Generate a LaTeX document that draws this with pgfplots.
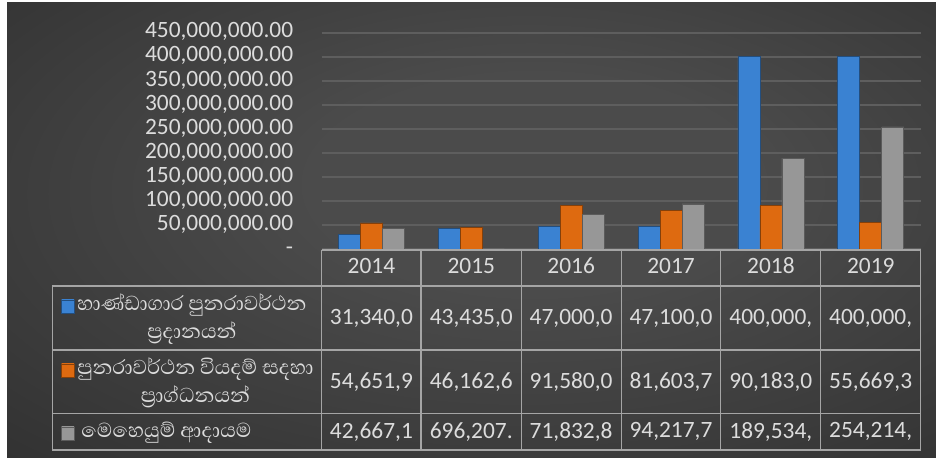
\documentclass[border=0pt]{standalone}
\usepackage{pgfplots}
\pgfplotsset{compat=1.18}
\usepackage{fontspec}
\setmainfont{Carlito}
\newfontfamily\sinhala[Script=Sinhala]{Abhaya Libre}

\definecolor{bgin}{HTML}{4B4B4B}
\definecolor{bgout}{HTML}{262626}
\definecolor{txt}{HTML}{DCDCDC}
\definecolor{gridc}{HTML}{5E5E5E}
\definecolor{tline}{HTML}{A5A5A5}
\definecolor{bluemid}{HTML}{4E9EEC}
\definecolor{blueedge}{HTML}{3A82D2}
\definecolor{orgmid}{HTML}{F7851F}
\definecolor{orgedge}{HTML}{DE6A10}
\definecolor{graymid}{HTML}{B2B2B2}
\definecolor{grayedge}{HTML}{979797}

\pgfdeclareradialshading{bgshade}{\pgfpoint{4bp}{6bp}}{%
  color(0bp)=(bgin); color(12bp)=(bgin); color(52bp)=(bgout); color(80bp)=(bgout)}

\begin{document}
\begin{tikzpicture}
\begin{scope}[x=0.5pt, y=-0.5pt, yshift=229pt]
  \fill[white] (0,0) rectangle (936,458);
  \shade[shading=bgshade] (7,3) rectangle (936,458);
\end{scope}

\begin{axis}[
  at={(160.75pt,104.35pt)}, anchor=south west,
  scale only axis, width=299.6pt, height=108.3pt,
  xmin=-0.5, xmax=5.5, ymin=0, ymax=450000000,
  ybar=0pt, bar width=11pt,
  xtick={0,1,2,3,4,5},
  xticklabels={2014,2015,2016,2017,2018,2019},
  ytick={0,50000000,100000000,150000000,200000000,250000000,300000000,350000000,400000000,450000000},
  yticklabels={-,{50,000,000.00},{100,000,000.00},{150,000,000.00},{200,000,000.00},
    {250,000,000.00},{300,000,000.00},{350,000,000.00},{400,000,000.00},{450,000,000.00}},
  scaled y ticks=false,
  axis line style={draw=none}, major tick length=0pt,
  ymajorgrids, grid style={draw=gridc, line width=1pt},
  tick label style={font=\fontsize{11.7}{13}\selectfont, text=txt},
  yticklabel style={anchor=east, inner sep=0pt, xshift=-14pt},
  xticklabel style={anchor=center, inner sep=0pt, yshift=-9.35pt},
  typeset ticklabels with strut,
]
% treasury grants
\addplot[draw=blueedge!60!black, left color=blueedge, middle color=bluemid, right color=blueedge]
  coordinates {(0,31340000) (1,43435000) (2,47000000) (3,47100000) (4,400000000) (5,400000000)};
% capital for recurrent expenditure
\addplot[draw=orgedge!60!black, left color=orgedge, middle color=orgmid, right color=orgedge]
  coordinates {(0,54651900) (1,46162600) (2,91580000) (3,81603700) (4,90183000) (5,55669300)};
% operating income
\addplot[draw=grayedge!60!black, left color=grayedge, middle color=graymid, right color=grayedge]
  coordinates {(0,42667100) (1,696207) (2,71832800) (3,94217700) (4,189534000) (5,254214000)};
\end{axis}

% data table below the plot
\begin{scope}[x=0.5pt, y=-0.5pt, yshift=229pt]
  \draw[tline, line width=0.75pt] (321.7,250) -- (920.7,250);
  \foreach \yy in {286,350,413.3,450} \draw[tline, line width=0.75pt] (52.3,\yy) -- (920.7,\yy);
  \draw[tline, line width=0.75pt] (52.3,286) -- (52.3,450);
  \foreach \xx in {321.7,421,521.7,621.3,720.7,820.7,920.7}
    \draw[tline, line width=0.75pt] (\xx,250) -- (\xx,450);

  \tikzset{val/.style={text=txt, font=\fontsize{11.7}{13}\selectfont, anchor=center}}
  \foreach \v [count=\i from 0] in {{31,340,0},{43,435,0},{47,000,0},{47,100,0},{400,000,},{400,000,}}
    \node[val] at (371.4+\i*99.85,318) {\v};
  \foreach \v [count=\i from 0] in {{54,651,9},{46,162,6},{91,580,0},{81,603,7},{90,183,0},{55,669,3}}
    \node[val] at (371.4+\i*99.85,381.7) {\v};
  \foreach \v [count=\i from 0] in {{42,667,1},{696,207.},{71,832,8},{94,217,7},{189,534,},{254,214,}}
    \node[val] at (371.4+\i*99.85,431.7) {\v};

  % legend keys
  \shade[draw=blueedge!60!black, left color=blueedge, middle color=bluemid, right color=blueedge] (61.5,300) rectangle (74,313);
  \shade[draw=orgedge!60!black, left color=orgedge, middle color=orgmid, right color=orgedge] (61.5,364) rectangle (74,377);
  \shade[draw=grayedge!60!black, left color=grayedge, middle color=graymid, right color=grayedge] (61.5,427) rectangle (74,440);

  \tikzset{leg/.style={text=txt, font=\sinhala\fontsize{12.9}{14}\selectfont, align=center, inner sep=0pt}}
  \node[leg, anchor=west] at (77,319) {හාණ්ඩාගාර පුනරාවර්ථන\\ප්‍රදානයන්};
  \node[leg, anchor=west] at (77,383) {පුනරාවර්ථන වියදම් සදහා\\ප්‍රාග්ධනයන්};
  \node[leg, anchor=west] at (81,433) {මෙහෙයුම් ආදායම};
\end{scope}
\end{tikzpicture}
\end{document}
